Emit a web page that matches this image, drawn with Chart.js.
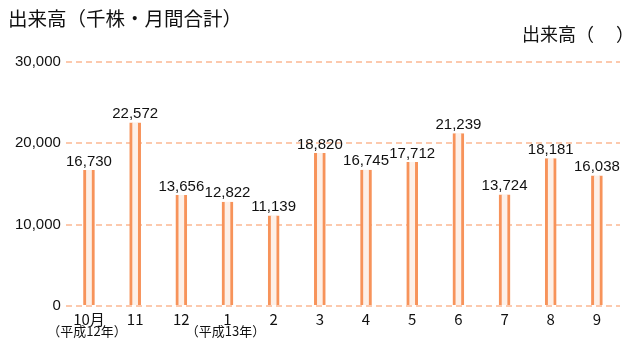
<!DOCTYPE html>
<html>
<head>
<meta charset="utf-8">
<script src="https://cdn.jsdelivr.net/npm/chart.js@4"></script>
<style>
  body { margin: 0; background: #fff; }
  #wrap { position: relative; width: 630px; height: 340px; overflow: hidden; }
  .title { position: absolute; font-family: "Noto Sans CJK JP", sans-serif; color: #111; line-height: 1; white-space: pre; }
</style>
</head>
<body>
<div id="wrap">
  <canvas id="chart" width="630" height="340"></canvas>
  <div class="title" style="left:8px; top:8px; font-size:19.5px;">出来高（千株・月間合計）</div>
  <div class="title" style="left:522px; top:24px; font-size:18px;">出来高（　 ）</div>
</div>
<script>
const months = ['10月', '11', '12', '1', '2', '3', '4', '5', '6', '7', '8', '9'];
const eraLabels = ['（平成12年）', '', '', '（平成13年）', '', '', '', '', '', '', '', ''];
const volumes = [16730, 22572, 13656, 12822, 11139, 18820, 16745, 17712, 21239, 13724, 18181, 16038];
const yTicks = [0, 10000, 20000, 30000];

const labelFont = '"Liberation Sans", Arial, sans-serif';

// value labels above bars + era sub labels under the x ticks
const extraText = {
    id: 'extraText',
    afterDatasetsDraw(chart) {
        const ctx = chart.ctx;
        const meta = chart.getDatasetMeta(0);
        ctx.save();
        ctx.fillStyle = '#111';
        ctx.font = '15px ' + labelFont;
        ctx.textAlign = 'center';
        ctx.textBaseline = 'bottom';
        meta.data.forEach((bar, i) => {
            ctx.fillText(volumes[i].toLocaleString('en-US'), bar.x, bar.y - 1);
        });
        const xScale = chart.scales.x;
        ctx.font = '13px "Noto Sans CJK JP", sans-serif';
        ctx.textBaseline = 'middle';
        eraLabels.forEach((t, i) => {
            if (t) ctx.fillText(t, xScale.getPixelForValue(i) - 2, 331);
        });
        ctx.restore();
    }
};

new Chart(document.getElementById('chart'), {
    type: 'bar',
    data: {
        labels: months,
        datasets: [{
            data: volumes,
            backgroundColor: '#fdf0e8',
            borderColor: '#f7935a',
            borderWidth: { left: 3, right: 3, top: 0, bottom: 0 },
            borderSkipped: false,
            barThickness: 11
        }]
    },
    options: {
        responsive: false,
        animation: false,
        layout: { padding: { top: 62, right: 10, left: 10, bottom: 8 } },
        plugins: {
            legend: { display: false },
            tooltip: { enabled: false }
        },
        scales: {
            x: {
                grid: { display: false, drawTicks: false },
                border: { display: false },
                ticks: {
                    color: '#111',
                    font: { family: '"Noto Sans CJK JP", sans-serif', size: 15 },
                    padding: 4
                }
            },
            y: {
                min: 0,
                max: 30000,
                afterBuildTicks: scale => { scale.ticks = yTicks.map(v => ({ value: v })); },
                grid: {
                    color: '#fcc9ad',
                    lineWidth: 2,
                    drawTicks: false
                },
                border: { display: false, dash: [6, 4] },
                ticks: {
                    color: '#111',
                    font: { family: labelFont, size: 15 },
                    padding: 5,
                    callback: v => v.toLocaleString('en-US')
                }
            }
        }
    },
    plugins: [extraText]
});
</script>
</body>
</html>
